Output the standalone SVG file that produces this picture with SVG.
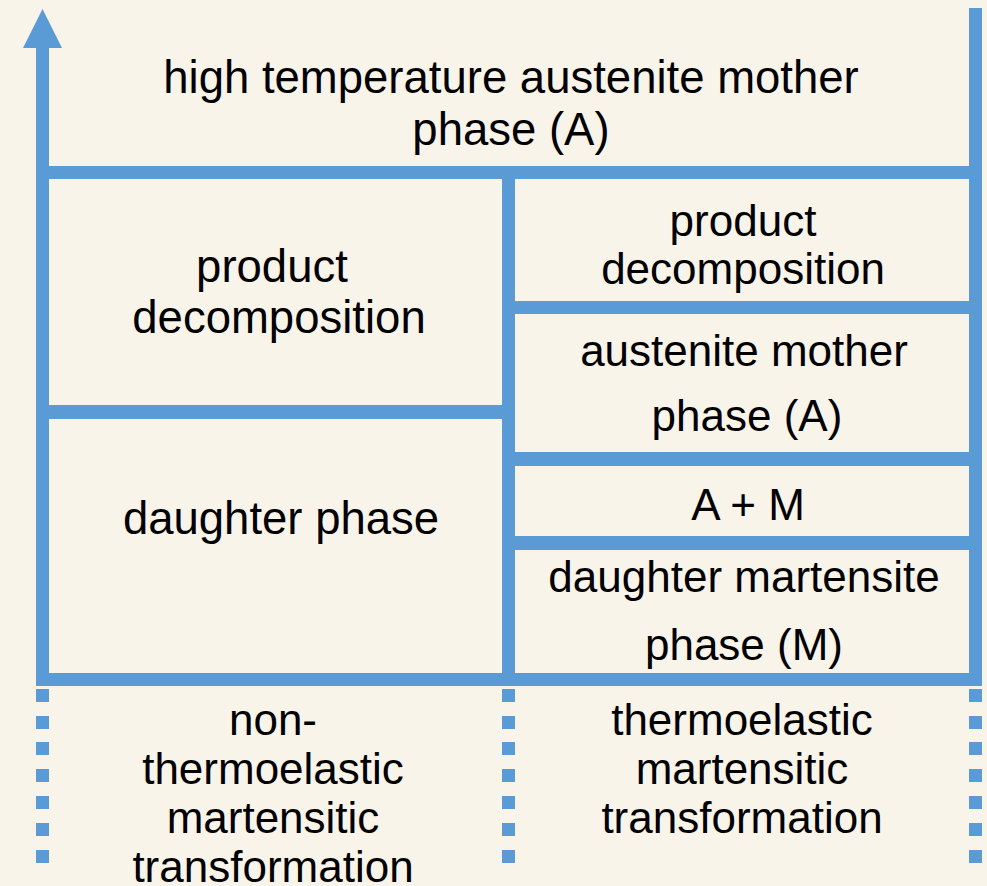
<svg xmlns="http://www.w3.org/2000/svg" width="987" height="886" viewBox="0 0 987 886">
  <style>
    .t { font-family: "Liberation Sans", Arial, sans-serif; font-size: 44px; fill: #000; text-anchor: middle; }
    .big { font-size: 45.5px; }
    .ln { fill: #5b9bd5; }
  </style>
  <rect x="0" y="0" width="987" height="886" fill="#f9f4ea"/>

  <g id="connectors">
    <polygon class="ln" points="42.5,9 62,48 23,48"/>
    <rect class="ln" x="36" y="46" width="13" height="640"/>
    <rect class="ln" x="969" y="8" width="13" height="678"/>
    <rect class="ln" x="36" y="166" width="946" height="13"/>
    <rect class="ln" x="36" y="673" width="946" height="13"/>
    <rect class="ln" x="502" y="166" width="13" height="520"/>
    <rect class="ln" x="49" y="405" width="453" height="14"/>
    <rect class="ln" x="515" y="301" width="454" height="13"/>
    <rect class="ln" x="515" y="452" width="454" height="14"/>
    <rect class="ln" x="515" y="536" width="454" height="14"/>
    <g fill="#5b9bd5">
      <rect x="36" y="689" width="13" height="13"/><rect x="36" y="716" width="13" height="13"/><rect x="36" y="742" width="13" height="13"/><rect x="36" y="769" width="13" height="13"/><rect x="36" y="796" width="13" height="13"/><rect x="36" y="823" width="13" height="13"/><rect x="36" y="850" width="13" height="13"/>
      <rect x="502" y="689" width="13" height="13"/><rect x="502" y="716" width="13" height="13"/><rect x="502" y="742" width="13" height="13"/><rect x="502" y="769" width="13" height="13"/><rect x="502" y="796" width="13" height="13"/><rect x="502" y="823" width="13" height="13"/><rect x="502" y="850" width="13" height="13"/>
      <rect x="969" y="689" width="13" height="13"/><rect x="969" y="716" width="13" height="13"/><rect x="969" y="742" width="13" height="13"/><rect x="969" y="769" width="13" height="13"/><rect x="969" y="796" width="13" height="13"/><rect x="969" y="823" width="13" height="13"/><rect x="969" y="850" width="13" height="13"/>
    </g>
  </g>

  <g id="node-high-temp">
    <text class="t big" x="511" y="93">high temperature austenite mother</text>
    <text class="t big" x="511" y="145">phase (A)</text>
  </g>
  <g id="node-left-product">
    <text class="t big" x="272" y="282">product</text>
    <text class="t big" x="279" y="333">decomposition</text>
  </g>
  <g id="node-left-daughter">
    <text class="t big" x="281" y="534">daughter phase</text>
  </g>
  <g id="node-right-product">
    <text class="t" x="743" y="236">product</text>
    <text class="t" x="743" y="284">decomposition</text>
  </g>
  <g id="node-right-austenite">
    <text class="t" x="744" y="366">austenite mother</text>
    <text class="t" x="747" y="431">phase (A)</text>
  </g>
  <g id="node-a-plus-m">
    <text class="t" x="748" y="520">A + M</text>
  </g>
  <g id="node-right-martensite">
    <text class="t" x="744" y="592">daughter martensite</text>
    <text class="t" x="744" y="660">phase (M)</text>
  </g>
  <g id="node-non-thermoelastic">
    <text class="t" x="273" y="735">non-</text>
    <text class="t" x="273" y="784">thermoelastic</text>
    <text class="t" x="273" y="833">martensitic</text>
    <text class="t" x="273" y="882">transformation</text>
  </g>
  <g id="node-thermoelastic">
    <text class="t" x="742" y="735">thermoelastic</text>
    <text class="t" x="742" y="784">martensitic</text>
    <text class="t" x="742" y="833">transformation</text>
  </g>
</svg>
